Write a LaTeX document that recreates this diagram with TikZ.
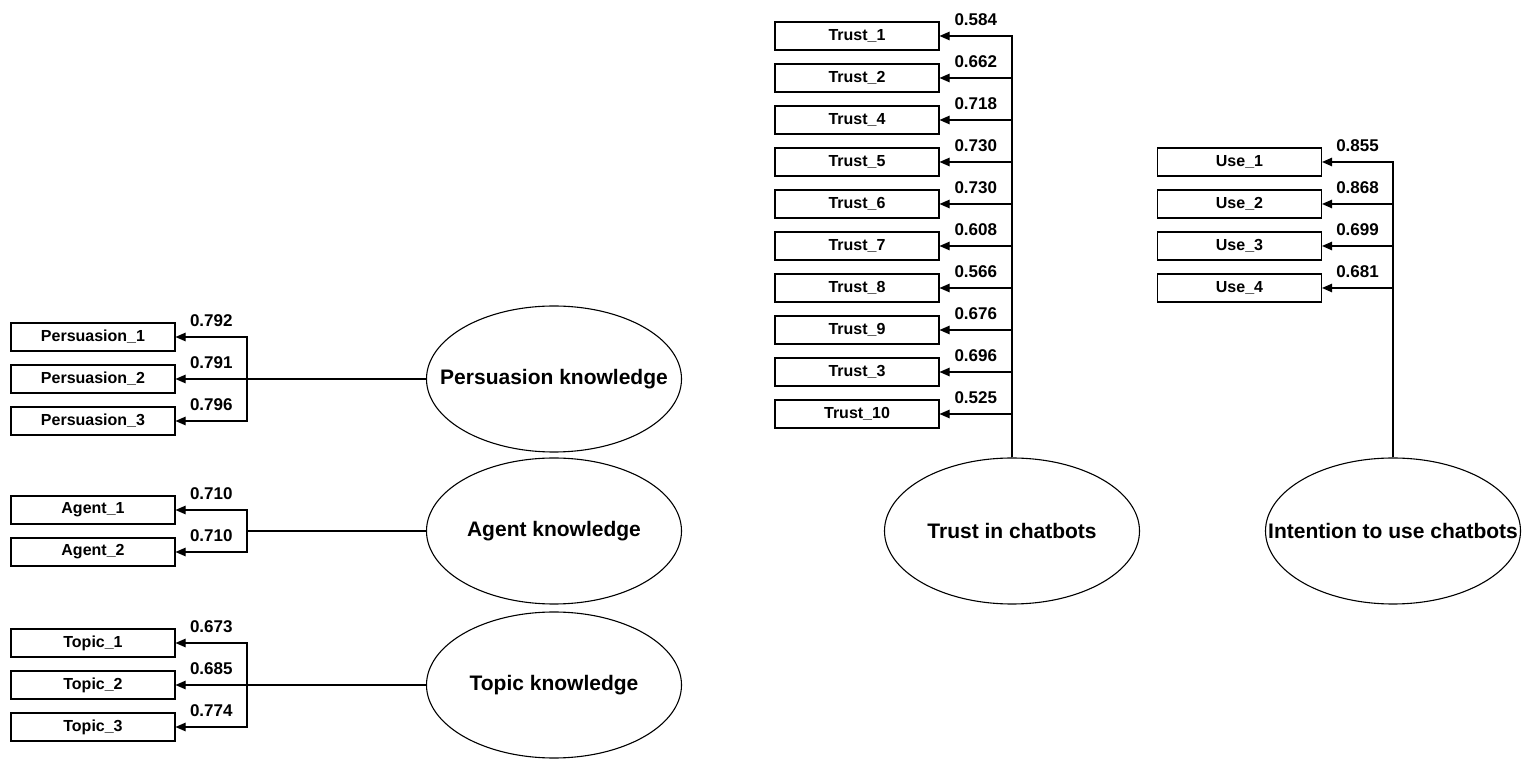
\documentclass[tikz,border=0pt]{standalone}
\usepackage{fontspec}
\setmainfont{Liberation Sans}
\usetikzlibrary{arrows.meta,shapes.geometric,positioning}

\begin{document}
\begin{tikzpicture}[x=1pt,y=1pt,>={Triangle[length=10pt,width=8.5pt]},line width=1.1pt,node distance=42pt,
    item node/.style={rectangle,draw,minimum width=164pt,minimum height=28pt,inner sep=0pt,font=\bfseries\fontsize{16}{19}\selectfont},
    latent node/.style={ellipse,draw,minimum width=255pt,minimum height=146pt,inner sep=0pt,font=\bfseries\fontsize{21}{25}\selectfont},
    weight node/.style={font=\bfseries\fontsize{17}{20}\selectfont,inner sep=2pt,above=8pt}]
    \useasboundingbox (0,0) rectangle (1526,758);
    \node[latent node] (pk) at (554,379) {\makebox[0pt]{Persuasion knowledge}};
    \node[latent node] (ak) at (554,227) {\makebox[0pt]{Agent knowledge}};
    \node[latent node] (tk) at (554,73) {\makebox[0pt]{Topic knowledge}};
    \node[latent node] (tc) at (1012,227) {\makebox[0pt]{Trust in chatbots}};
    \node[latent node] (uc) at (1393,227) {\makebox[0pt]{Intention to use chatbots}};
    \node[item node] (p1) at (93,421) {Persuasion\_1};
    \node[item node] (p2) [below of=p1] {Persuasion\_2};
    \node[item node] (p3) [below of=p2] {Persuasion\_3};
    \node[item node] (a1) at (93,248) {Agent\_1};
    \node[item node] (a2) [below of=a1] {Agent\_2};
    \node[item node] (o1) at (93,115) {Topic\_1};
    \node[item node] (o2) [below of=o1] {Topic\_2};
    \node[item node] (o3) [below of=o2] {Topic\_3};
    \node[item node] (t1) at (857,722) {Trust\_1};
    \node[item node] (t2) [below of=t1] {Trust\_2};
    \node[item node] (t4) [below of=t2] {Trust\_4};
    \node[item node] (t5) [below of=t4] {Trust\_5};
    \node[item node] (t6) [below of=t5] {Trust\_6};
    \node[item node] (t7) [below of=t6] {Trust\_7};
    \node[item node] (t8) [below of=t7] {Trust\_8};
    \node[item node] (t9) [below of=t8] {Trust\_9};
    \node[item node] (t3) [below of=t9] {Trust\_3};
    \node[item node] (t10) [below of=t3] {Trust\_10};
    \node[item node] (u1) at (1239.5,596) {Use\_1};
    \node[item node] (u2) [below of=u1] {Use\_2};
    \node[item node] (u3) [below of=u2] {Use\_3};
    \node[item node] (u4) [below of=u3] {Use\_4};
    \coordinate (pb) at (247,379);
    \coordinate (ab) at (247,227);
    \coordinate (ob) at (247,73);
    \draw (pk) -- (pb);
    \draw[->] (pb) |- node[weight node,pos=0.75] {0.792} (p1);
    \draw[->] (pb) -- node[weight node] {0.791} (p2);
    \draw[->] (pb) |- node[weight node,pos=0.75] {0.796} (p3);
    \draw (ak) -- (ab);
    \draw[->] (ab) |- node[weight node,pos=0.75] {0.710} (a1);
    \draw[->] (ab) |- node[weight node,pos=0.75] {0.710} (a2);
    \draw (tk) -- (ob);
    \draw[->] (ob) |- node[weight node,pos=0.75] {0.673} (o1);
    \draw[->] (ob) -- node[weight node] {0.685} (o2);
    \draw[->] (ob) |- node[weight node,pos=0.75] {0.774} (o3);
    \draw[->] (tc) |- node[weight node,pos=0.75] {0.584} (t1);
    \draw[->] (tc) |- node[weight node,pos=0.75] {0.662} (t2);
    \draw[->] (tc) |- node[weight node,pos=0.75] {0.718} (t4);
    \draw[->] (tc) |- node[weight node,pos=0.75] {0.730} (t5);
    \draw[->] (tc) |- node[weight node,pos=0.75] {0.730} (t6);
    \draw[->] (tc) |- node[weight node,pos=0.75] {0.608} (t7);
    \draw[->] (tc) |- node[weight node,pos=0.75] {0.566} (t8);
    \draw[->] (tc) |- node[weight node,pos=0.75] {0.676} (t9);
    \draw[->] (tc) |- node[weight node,pos=0.75] {0.696} (t3);
    \draw[->] (tc) |- node[weight node,pos=0.75] {0.525} (t10);
    \draw[->] (uc) |- node[weight node,pos=0.75] {0.855} (u1);
    \draw[->] (uc) |- node[weight node,pos=0.75] {0.868} (u2);
    \draw[->] (uc) |- node[weight node,pos=0.75] {0.699} (u3);
    \draw[->] (uc) |- node[weight node,pos=0.75] {0.681} (u4);
\end{tikzpicture}
\end{document}
